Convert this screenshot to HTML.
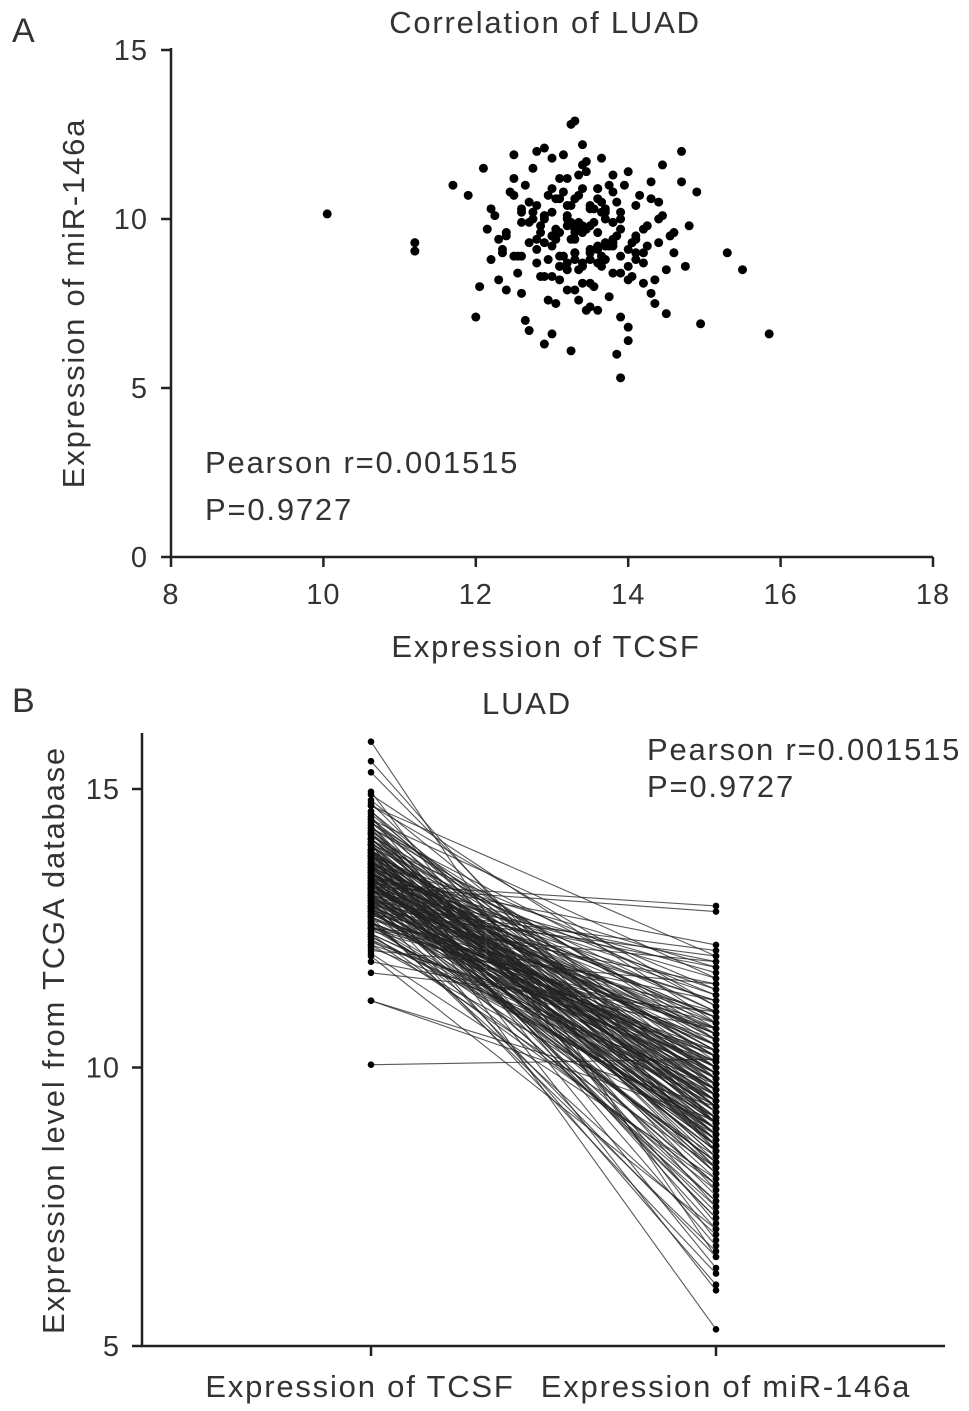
<!DOCTYPE html>
<html><head><meta charset="utf-8">
<style>
html,body{margin:0;padding:0;background:#fff;}
svg text{font-family:"Liberation Sans",sans-serif;fill:#333;letter-spacing:1.8px;}
svg text.tk{letter-spacing:1px;}
</style></head>
<body>
<svg id="fig" width="969" height="1406" viewBox="0 0 969 1406" xmlns="http://www.w3.org/2000/svg">
<g id="pa"></g>
<g id="pb"></g>
</svg>
<script>
const tcsf=[10.05,11.2,11.2,11.7,11.9,12.0,15.3,15.5,15.85,14.95,13.9,13.3,13.25,14.7,14.9,12.1,12.5,
12.2,12.3,12.4,12.5,12.6,12.7,12.8,12.9,13.0,13.1,13.2,13.3,13.4,13.5,13.6,13.7,13.8,13.9,14.0,14.1,14.2,14.3,14.4,14.5,
12.35,12.45,12.55,12.65,12.75,12.85,12.95,13.05,13.15,13.25,13.35,13.45,13.55,13.65,13.75,13.85,13.95,14.05,14.15,14.25,14.35,14.45,14.6,
12.2,12.4,12.6,12.8,13.0,13.2,13.4,13.6,13.8,14.0,14.2,14.4,14.6,14.8,
12.3,12.5,12.7,12.9,13.1,13.3,13.5,13.7,13.9,14.1,14.3,14.5,14.7,
12.6,12.8,13.0,13.2,13.4,13.6,13.8,14.0,14.2,12.9,13.1,13.3,13.5,13.7,13.9,
12.15,12.25,12.9,13.05,13.2,13.35,13.5,13.65,13.8,14.0,14.3,14.55,14.75,12.75,13.0,13.15,13.3,13.45,13.6,13.75,
12.05,12.35,12.65,13.1,13.4,13.7,14.1,14.45,12.85,13.55,13.25,13.85,14.25,12.55,12.95,13.35,13.65,14.05,14.35,13.0,13.2,13.4,13.6,13.8,
12.7,12.8,12.9,13.0,13.1,13.2,13.3,13.4,13.5,13.6,13.7,13.8,13.9,14.0,12.75,12.85,12.95,13.05,13.15,13.25,13.35,13.45,13.55,13.65,13.75,13.85,
12.6,12.9,13.1,13.3,13.5,13.7,13.9,14.1,12.8,13.0,13.2,13.4,13.6,13.8,14.0,13.1,13.3,13.5,13.2,13.4,
12.4,12.5,12.7,13.0,13.3,13.6,13.9,14.2,14.4,12.6,12.9,13.2,13.5,13.8,14.1,13.05,13.35,13.65,13.25,13.45];
const mir=[10.15,9.3,9.05,11.0,10.7,7.1,9.0,8.5,6.6,6.9,5.3,12.9,12.8,12.0,10.8,11.5,11.9,
10.3,8.2,9.6,11.2,7.8,10.5,9.1,6.3,11.8,8.6,10.0,9.4,12.2,7.4,10.9,8.8,11.3,9.7,6.8,10.4,8.1,11.1,9.3,7.2,
9.0,10.8,8.4,7.0,11.5,9.8,7.6,10.6,8.9,6.1,9.9,11.7,8.0,10.2,7.7,9.5,11.0,8.3,10.7,9.2,7.5,10.1,9.6,
8.8,7.9,10.3,12.0,9.2,8.5,10.9,7.3,9.9,11.4,8.7,10.5,9.0,9.8,
9.4,10.7,6.7,8.3,11.2,9.6,8.1,10.0,7.1,9.4,10.6,8.5,11.1,
8.9,10.4,9.5,7.9,11.6,9.1,10.8,8.2,9.7,10.1,8.6,9.0,10.3,9.3,8.4,
9.7,10.1,12.1,7.5,9.8,11.3,8.8,10.5,9.4,6.4,7.8,9.5,8.6,10.0,6.6,11.9,10.6,7.3,9.2,11.0,
8.0,9.1,11.0,9.6,8.7,10.2,9.0,11.6,8.3,9.9,10.4,6.0,9.8,8.9,10.7,7.6,11.8,9.3,8.2,10.2,8.7,9.6,10.9,9.9,
9.3,8.7,10.1,9.5,8.9,10.4,9.0,8.6,9.8,10.6,9.2,8.4,10.0,9.1,10.2,9.6,8.8,9.4,10.8,9.9,8.5,9.7,10.3,8.9,9.2,10.5,
9.9,10.0,8.2,9.7,9.1,10.3,8.9,9.5,9.4,8.3,10.1,9.8,8.7,9.3,8.6,10.6,7.9,9.0,11.2,8.1,
9.5,8.9,9.9,10.9,8.8,9.6,10.2,9.0,10.0,10.2,9.3,8.5,10.4,9.2,8.8,9.7,10.7,8.6,9.4,11.4];

const pa=document.getElementById('pa'),pb=document.getElementById('pb');
const NS='http://www.w3.org/2000/svg';
function mk(p,t,a,txt){const e=document.createElementNS(NS,t);for(const k in a)e.setAttribute(k,a[k]);if(txt!==undefined)e.textContent=txt;p.appendChild(e);return e;}

const ax=v=>171+(v-8)*76.2, ay=v=>557-v*33.8;
let e;
e=mk(pa,'text',{x:12,y:42,'font-size':34},'A');
e=mk(pa,'text',{x:545,y:33,'font-size':31,'text-anchor':'middle'},'Correlation of LUAD');
e=mk(pa,'path',{d:'M171 48V557H933',stroke:'#222','stroke-width':2.5,fill:'none'});
const xtA=[8,10,12,14,16,18],ytA=[0,5,10,15];
xtA.forEach(v=>{e=mk(pa,'line',{x1:ax(v),x2:ax(v),y1:557,y2:567,stroke:'#222','stroke-width':2.5});
e=mk(pa,'text',{x:ax(v),y:604,'font-size':29,'text-anchor':'middle','class':'tk'},v);});
ytA.forEach(v=>{e=mk(pa,'line',{x1:161,x2:171,y1:ay(v),y2:ay(v),stroke:'#222','stroke-width':2.5});
e=mk(pa,'text',{x:148,y:ay(v)+10,'font-size':29,'text-anchor':'end','class':'tk'},v);});
e=mk(pa,'text',{x:546,y:657,'font-size':31,'text-anchor':'middle'},'Expression of TCSF');
e=mk(pa,'text',{x:0,y:0,'font-size':31,'text-anchor':'middle',transform:'translate(84,303) rotate(-90)'},'Expression of miR-146a');
e=mk(pa,'text',{x:205,y:473,'font-size':31},'Pearson r=0.001515');
e=mk(pa,'text',{x:205,y:520,'font-size':31},'P=0.9727');
tcsf.forEach((v,i)=>{e=mk(pa,'circle',{cx:ax(v),cy:ay(mir[i]),r:4.5,fill:'#000'});});

const by=v=>1346-(v-5)*55.7, bx=[371,716];
e=mk(pb,'text',{x:12,y:712,'font-size':34},'B');
e=mk(pb,'text',{x:527,y:714,'font-size':31,'text-anchor':'middle'},'LUAD');
e=mk(pb,'path',{d:'M142 733V1346H945',stroke:'#222','stroke-width':2.5,fill:'none'});
const ytB=[5,10,15],catB=['Expression of TCSF','Expression of miR-146a'];
ytB.forEach(v=>{e=mk(pb,'line',{x1:132,x2:142,y1:by(v),y2:by(v),stroke:'#222','stroke-width':2.5});
e=mk(pb,'text',{x:120,y:by(v)+10,'font-size':29,'text-anchor':'end','class':'tk'},v);});
catB.forEach((c,i)=>{e=mk(pb,'line',{x1:bx[i],x2:bx[i],y1:1346,y2:1356,stroke:'#222','stroke-width':2.5});
e=mk(pb,'text',{x:[360,726][i],y:1397,'font-size':31,'text-anchor':'middle'},c);});
e=mk(pb,'text',{x:0,y:0,'font-size':31,'text-anchor':'middle',transform:'translate(64,1040) rotate(-90)'},'Expression level from TCGA database');
e=mk(pb,'text',{x:647,y:760,'font-size':31},'Pearson r=0.001515');
e=mk(pb,'text',{x:647,y:797,'font-size':31},'P=0.9727');
tcsf.forEach((v,i)=>{e=mk(pb,'line',{x1:bx[0],y1:by(v),x2:bx[1],y2:by(mir[i]),stroke:'#222','stroke-width':1.1,'stroke-opacity':0.75});});
tcsf.forEach((v,i)=>{e=mk(pb,'circle',{cx:bx[0],cy:by(v),r:3.3,fill:'#000'});
e=mk(pb,'circle',{cx:bx[1],cy:by(mir[i]),r:3.3,fill:'#000'});});
</script>
</body></html>
